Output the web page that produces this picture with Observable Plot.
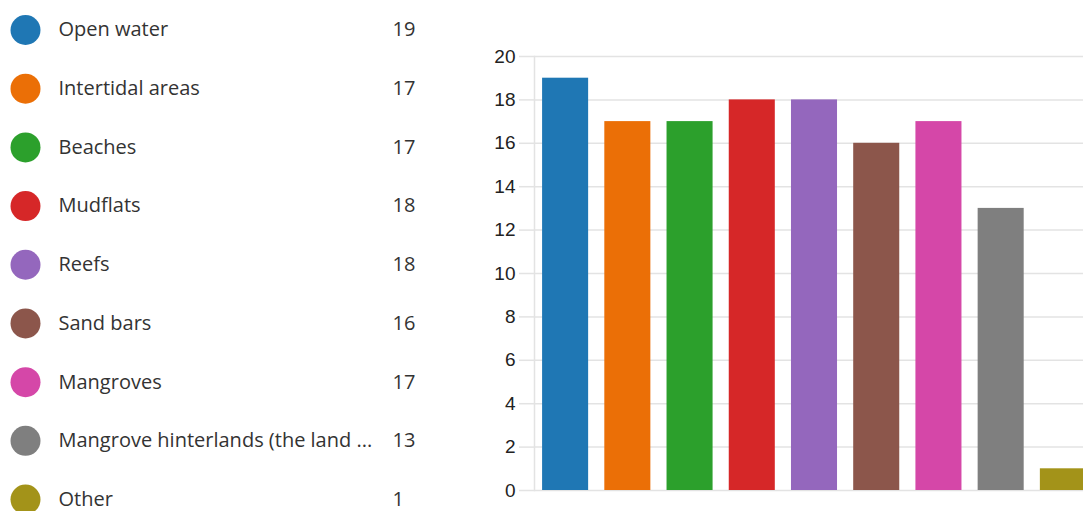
<!DOCTYPE html>
<html>
<head>
<meta charset="utf-8">
<script src="https://cdn.jsdelivr.net/npm/d3@7"></script>
<script src="https://cdn.jsdelivr.net/npm/@observablehq/plot@0.6"></script>
<style>
  html, body { margin: 0; padding: 0; background: #fff; overflow: hidden; width: 1083px; height: 511px; }
  #legend { position: absolute; left: 0; top: 0; width: 440px; height: 511px; }
  #chart { position: absolute; left: 440px; top: 0; width: 660px; height: 511px; }
  #legend svg, #chart svg { max-width: none !important; }
</style>
</head>
<body>
<div id="legend"></div>
<div id="chart"></div>
<script>
const categories = [
  "Open water",
  "Intertidal areas",
  "Beaches",
  "Mudflats",
  "Reefs",
  "Sand bars",
  "Mangroves",
  "Mangrove hinterlands (the land ...",
  "Other"
];
const counts = [19, 17, 17, 18, 18, 16, 17, 13, 1];
const colors = ["#1f77b4", "#eb6f06", "#2ca02c", "#d62728", "#9467bd", "#8c564b", "#d547a8", "#7f7f7f", "#a39319"];
const yTicks = [0, 2, 4, 6, 8, 10, 12, 14, 16, 18, 20];

const data = categories.map((c, i) => ({category: c, count: counts[i]}));
const colorScale = {domain: categories, range: colors};

const legend = Plot.plot({
  width: 440,
  height: 511,
  margin: 0,
  style: {fontFamily: "'Open Sans', 'Noto Sans', sans-serif", background: "transparent"},
  y: {type: "point", domain: categories, range: [29.5, 499], padding: 0, round: false, axis: null},
  color: colorScale,
  marks: [
    Plot.dot(data, {y: "category", fill: "category", r: 15, frameAnchor: "left", dx: 25}),
    Plot.text(data, {y: "category", text: "category", frameAnchor: "left", dx: 58, textAnchor: "start", fontSize: 20, fill: "#333"}),
    Plot.text(data, {y: "category", text: d => String(d.count), frameAnchor: "left", dx: 392, textAnchor: "start", fontSize: 20, fill: "#333"})
  ]
});
legend.style.maxWidth = "none";
document.getElementById("legend").appendChild(legend);

const chart = Plot.plot({
  width: 660,
  height: 511,
  marginLeft: 94,
  marginRight: 0,
  marginTop: 56,
  marginBottom: 21,
  style: {fontFamily: "'Liberation Sans', Arial, sans-serif", background: "transparent"},
  x: {domain: categories, range: [94, 654], paddingInner: 0.26, paddingOuter: 0.13, round: false, axis: null},
  y: {domain: [0, 20], ticks: yTicks},
  color: colorScale,
  marks: [
    Plot.gridY(yTicks, {stroke: "#e3e3e3", strokeOpacity: 1, strokeWidth: 1.5}),
    Plot.axisY(yTicks, {tickSize: 15, tickPadding: 4, stroke: "#e3e3e3", strokeOpacity: 1, strokeWidth: 1.5, fill: "#222", fontSize: 19, label: null}),
    Plot.frame({anchor: "left", stroke: "#e3e3e3", strokeWidth: 1.5, strokeOpacity: 1}),
    Plot.barY(data, {x: "category", y: "count", fill: "category"})
  ]
});
chart.style.maxWidth = "none";
document.getElementById("chart").appendChild(chart);
</script>
</body>
</html>
